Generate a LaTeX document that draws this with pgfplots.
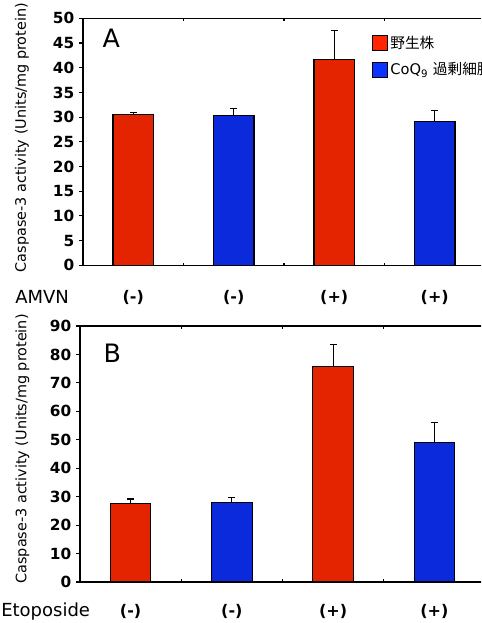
\documentclass[border=0pt]{standalone}
\usepackage{fontspec}
\setmainfont{DejaVu Sans}
\newfontfamily\cjk{Noto Sans CJK JP}
\usepackage{pgfplots}
\pgfplotsset{compat=1.18}
\definecolor{wtred}{HTML}{E42400}
\definecolor{oxblue}{HTML}{0A2ADC}
\definecolor{legred}{HTML}{FF2600}
\definecolor{legblue}{HTML}{0A33FF}

\pgfplotsset{
  panel/.style={
    scale only axis, axis line style={line width=0.9pt},
    xmin=0.5, xmax=4.5, ymin=0,
    xtick={1,2,3,4}, minor xtick={1.5,2.5,3.5},
    xtick align=inside, ytick align=outside,
    major x tick style={draw=none},
    minor tick length=2pt, major tick length=3pt,
    tick style={line width=0.8pt, black},
    /pgf/number format/assume math mode=true,
    yticklabel style={font=\fontsize{11.5}{13}\selectfont\bfseries},
    xticklabel style={font=\fontsize{12}{14}\selectfont\bfseries},
    ylabel={Caspase-3 activity (Units/mg protein)},
    ylabel style={font=\fontsize{10.8}{12}\selectfont, anchor=center},
    xticklabels={(-),(-),(+),(+)},
  },
  errs/.style={error bars/.cd, y dir=plus, y explicit,
    error bar style={line width=0.9pt, black},
    error mark options={rotate=90, mark size=2.6pt, line width=0.9pt, black}},
  barbase/.style={ybar, bar width=30.4pt, /pgf/bar shift=0pt, draw=black, line width=0.8pt, forget plot},
  redbar/.style={barbase, fill=wtred, errs},
  bluebar/.style={barbase, fill=oxblue, errs},
}

\begin{document}
\begin{tikzpicture}
\useasboundingbox (0,0) rectangle (360.75pt,-467.25pt);
\clip (0,0) rectangle (360.75pt,-467.25pt);

% panel A
\begin{axis}[panel, at={(62.25pt,-13.75pt)}, anchor=north west,
  width=301.5pt, height=185.25pt, ymax=50,
  ytick={0,5,...,50},
  xticklabel style={anchor=center, yshift=-24pt},
  ylabel style={at={(axis description cs:-0.152,0.517)}},
  legend style={at={(rel axis cs:0.718,0.940)}, anchor=north west, draw=none, fill=none,
    inner sep=0pt, row sep=5pt, font=\fontsize{11}{13}\selectfont},
  legend cell align=left]
\addlegendimage{legend image code/.code={\draw[fill=legred, draw=black, line width=0.6pt] (0pt,-5.6pt) rectangle (11.25pt,5.6pt);}}
\addlegendentry{{\cjk 野生株}}
\addlegendimage{legend image code/.code={\draw[fill=legblue, draw=black, line width=0.6pt] (0pt,-5.6pt) rectangle (11.25pt,5.6pt);}}
\addlegendentry{CoQ\textsubscript{9} {\cjk 過剰細胞}}
\addplot[redbar] coordinates {(1,30.6) +- (0,0.3) (3,41.7) +- (0,5.9)};
\addplot[bluebar] coordinates {(2,30.4) +- (0,1.4) (4,29.1) +- (0,2.3)};
\end{axis}

% panel B
\begin{axis}[panel, at={(60pt,-244.5pt)}, anchor=north west,
  width=303.75pt, height=192pt, ymax=90,
  ytick={0,10,...,90},
  xticklabel style={anchor=center, yshift=-22.3pt},
  ylabel style={at={(axis description cs:-0.142,0.52)}}]
\addplot[redbar] coordinates {(1,27.7) +- (0,1.5) (3,75.6) +- (0,8.0)};
\addplot[bluebar] coordinates {(2,27.8) +- (0,1.8) (4,49.1) +- (0,6.9)};
\end{axis}

\node[anchor=west, font=\fontsize{19}{22}\selectfont] at (73.5pt,-28.5pt) {A};
\node[anchor=west, font=\fontsize{19}{22}\selectfont] at (74.25pt,-264.75pt) {B};
\node[anchor=west, inner sep=0pt, font=\fontsize{13.5}{16}\selectfont] at (11.25pt,-222.75pt) {AMVN};
\node[anchor=west, inner sep=0pt, font=\fontsize{13.5}{16}\selectfont] at (0.75pt,-458.8pt) {Etoposide};
\end{tikzpicture}
\end{document}
